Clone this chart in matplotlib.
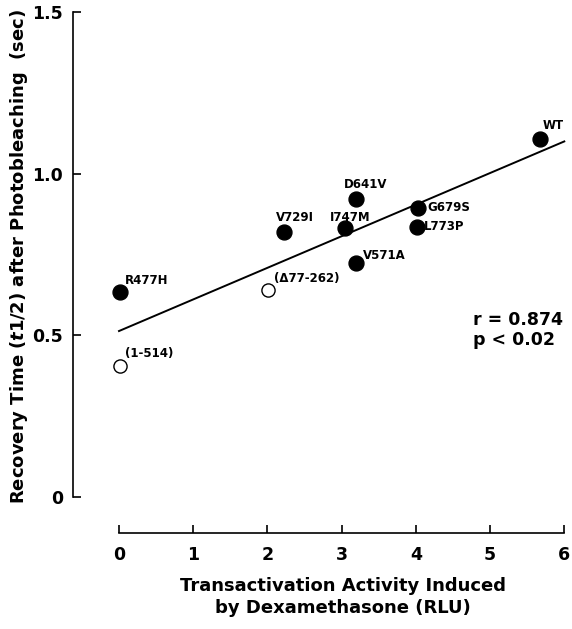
import numpy as np
import matplotlib
matplotlib.use("Agg")
import matplotlib.pyplot as plt

plt.rcParams['font.family'] = ['DejaVu Sans']
plt.rcParams['font.weight'] = 'bold'
plt.rcParams['mathtext.fontset'] = 'custom'
plt.rcParams['mathtext.it'] = 'DejaVu Sans:italic:bold'
plt.rcParams['mathtext.rm'] = 'DejaVu Sans:bold'

# Mutants: transactivation (RLU) vs recovery time t1/2 (sec)
labels = ["WT", "D641V", "I747M", "V729I", "V571A", "R477H", "G679S", "L773P",
          "(\u039477-262)", "(1-514)"]
activity = [5.67, 3.19, 3.05, 2.23, 3.19, 0.01, 4.03, 4.01, 2.01, 0.01]
recovery = [1.108, 0.920, 0.831, 0.819, 0.723, 0.634, 0.894, 0.836, 0.639, 0.404]
filled = [True, True, True, True, True, True, True, True, False, False]

# label offsets in points (dx, dy) and alignment
label_pos = {
    "WT": (2, 7, 'left', 'baseline'),
    "D641V": (7, 8, 'center', 'baseline'),
    "I747M": (-11, 5, 'left', 'baseline'),
    "V729I": (-6, 8, 'left', 'baseline'),
    "V571A": (5, 3, 'left', 'baseline'),
    "R477H": (4, 6, 'left', 'baseline'),
    "G679S": (7, 0, 'left', 'center'),
    "L773P": (5, 0, 'left', 'center'),
    "(\u039477-262)": (4, 6, 'left', 'baseline'),
    "(1-514)": (4, 7, 'left', 'baseline'),
}

x = np.array(activity)
y = np.array(recovery)
slope, intercept = np.polyfit(x, y, 1)

fig = plt.figure(figsize=(5.72, 6.29), dpi=100)
ax = fig.add_axes([0.1276, 0.1526, 0.993 - 0.1276, 0.9968 - 0.1526])

xs = np.array([0, 6])
ax.plot(xs, intercept + slope * xs, color='black', lw=1.4, zorder=1)

for xi, yi, f in zip(x, y, filled):
    ax.scatter(xi, yi, s=115 if f else 90, facecolor='black' if f else 'white',
               edgecolor='black', linewidths=1.0, zorder=3)

for lab, xi, yi in zip(labels, x, y):
    dx, dy, ha, va = label_pos[lab]
    ax.annotate(lab, (xi, yi), xytext=(dx, dy), textcoords='offset points',
                ha=ha, va=va, fontsize=8.5, fontweight='bold')

ax.text(5.98, 0.469, "r = 0.874\np < 0.02", ha='right', va='baseline',
        multialignment='left', fontsize=12.5, fontweight='bold', linespacing=1.2)

ax.set_xlim(-0.62, 6.05)
ax.set_ylim(-0.111, 1.53)
ax.spines['top'].set_visible(False)
ax.spines['right'].set_visible(False)
ax.spines['left'].set_bounds(0, 1.5)
ax.spines['bottom'].set_bounds(0, 6)
ax.spines['left'].set_linewidth(1.2)
ax.spines['bottom'].set_linewidth(1.2)

ax.set_xticks([0, 1, 2, 3, 4, 5, 6])
ax.set_xticklabels(["0", "1", "2", "3", "4", "5", "6"])
ax.set_yticks([0, 0.5, 1.0, 1.5])
ax.set_yticklabels(["0", "0.5", "1.0", "1.5"])
ax.tick_params(direction='in', length=6, width=1.2, labelsize=12.5)
ax.tick_params(axis='x', pad=9)
ax.tick_params(axis='y', pad=7)

ax.set_xlabel("Transactivation Activity Induced\nby Dexamethasone (RLU)",
              fontsize=13, fontweight='bold', linespacing=1.3)
ax.set_ylabel("Recovery Time ($\\mathit{t}$1/2) after Photobleaching  (sec)",
              fontsize=13, fontweight='bold')
ax.xaxis.set_label_coords(0.545, -0.083)
ax.yaxis.set_label_coords(-0.087, 0.52)

fig.savefig("out.png", dpi=100)
